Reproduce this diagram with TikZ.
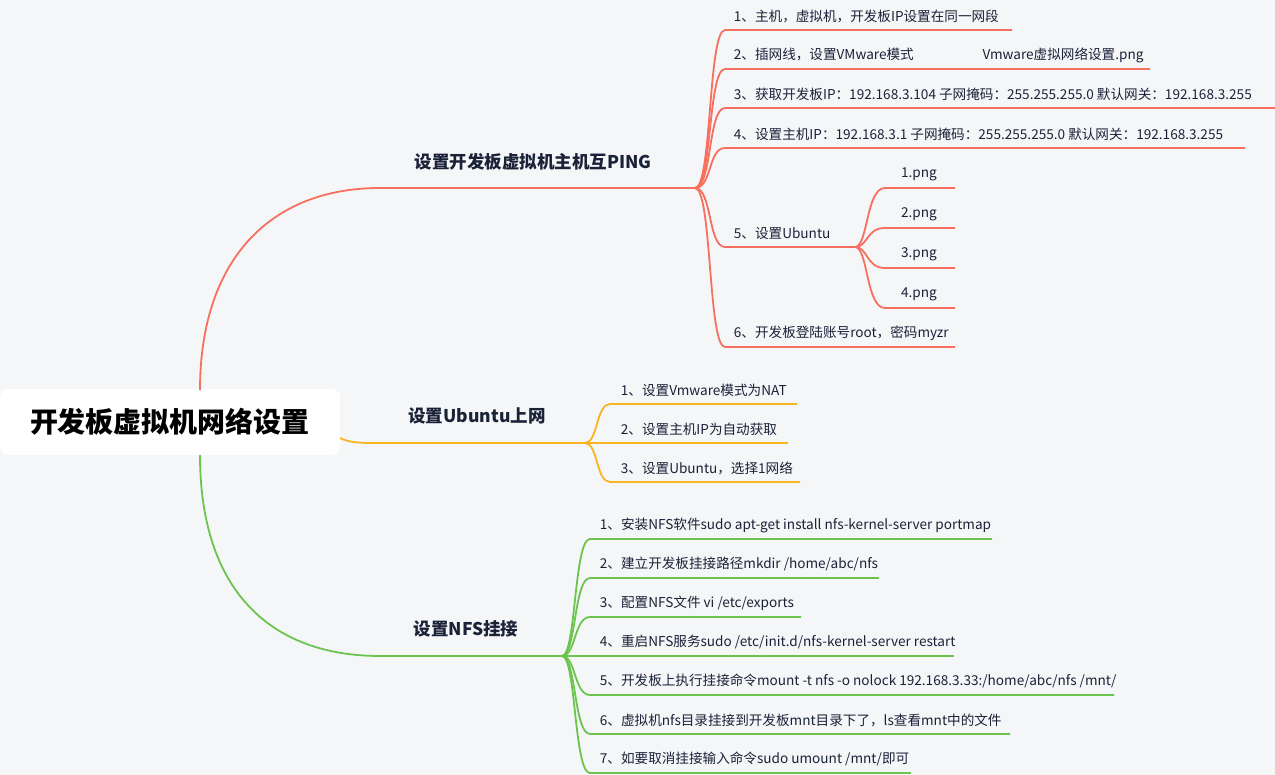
\documentclass[tikz,border=0pt]{standalone}
\usepackage{fontspec}
\setmainfont{Noto Sans CJK SC}
\usepackage{xcolor}
\definecolor{bg}{HTML}{F5F6F8}
\definecolor{redb}{HTML}{F7705F}
\definecolor{orab}{HTML}{F9B422}
\definecolor{greb}{HTML}{6CC450}
\definecolor{txt}{HTML}{1A2238}
\begin{document}
\begin{tikzpicture}[x=1pt,y=-1pt,line width=1.8pt,
  leaf/.style={anchor=west,inner sep=0pt,font=\fontsize{13.6}{15}\selectfont,text=txt},
  topic/.style={inner sep=0pt,font=\fontsize{17.5}{20}\selectfont\bfseries,text=txt}]
  \useasboundingbox[fill=bg] (0,0) rectangle (1275,775);
  % Root
  \node[fill=white,rounded corners=8pt,minimum width=340pt,minimum height=66pt,
    font=\fontsize{28}{32}\selectfont\bfseries,text=black] (root) at (170,422) {开发板虚拟机网络设置};
  \coordinate (rt) at (200,390);
  \coordinate (rb) at (200,455);
  \coordinate (rr) at (340,438);
  % Topics
  \node[topic] (t1) at (533,162) {设置开发板虚拟机主机互PING};
  \node[topic] (t2) at (477,416) {设置Ubuntu上网};
  \node[topic] (t3) at (466,629) {设置NFS挂接};
  \coordinate (t1a) at (380,188); \coordinate (t1b) at (695,188);
  \coordinate (t2a) at (380,443); \coordinate (t2b) at (585,443);
  \coordinate (t3a) at (380,656); \coordinate (t3b) at (562,656);
  \draw[redb] (rt) .. controls (200,260) and (270,188) .. (t1a) -- (t1b);
  \draw[orab] (rr) .. controls (350,443) and (360,443) .. (t2a) -- (t2b);
  \draw[greb] (rb) .. controls (200,590) and (270,656) .. (t3a) -- (t3b);
  % Red leaves
  \foreach \y/\e/\t [count=\i] in {
    30/1012/{1、主机，虚拟机，开发板IP设置在同一网段},
    69/925/{2、插网线，设置VMware模式},
    108/1275/{3、获取开发板IP：192.168.3.104 子网掩码：255.255.255.0 默认网关：192.168.3.255},
    148/1245/{4、设置主机IP：192.168.3.1 子网掩码：255.255.255.0 默认网关：192.168.3.255},
    247/835/{5、设置Ubuntu},
    347/955/{6、开发板登陆账号root，密码myzr}}{
    \coordinate (r\i) at (725,\y); \coordinate (re\i) at (\e,\y);
    \draw[redb] (t1b) .. controls (712,188) and (708,\y) .. (r\i) -- (re\i);
    \node[leaf] (rl\i) at (733,\y-14) {\t};
  }
  \coordinate (png0) at (945,69); \coordinate (png1) at (1150,69);
  \draw[redb] (re2) -- (png0) -- (png1);
  \node[leaf,anchor=center] (pngl) at (1063,55) {Vmware虚拟网络设置.png};
  \coordinate (ub) at (855,247);
  \draw[redb] (re5) -- (ub);
  \foreach \y [count=\i] in {188,228,268,308}{
    \coordinate (u\i) at (885,\y); \coordinate (ue\i) at (955,\y);
    \draw[redb] (ub) .. controls (868,247) and (866,\y) .. (u\i) -- (ue\i);
    \node[leaf,anchor=center] (ul\i) at (919,\y-14) {\i.png};
  }
  % Orange leaves
  \foreach \y/\e/\t [count=\i] in {
    404/797/{1、设置Vmware模式为NAT},
    443/788/{2、设置主机IP为自动获取},
    482/800/{3、设置Ubuntu，选择1网络}}{
    \coordinate (o\i) at (610,\y); \coordinate (oe\i) at (\e,\y);
    \draw[orab] (t2b) .. controls (598,443) and (596,\y) .. (o\i) -- (oe\i);
    \node[leaf] (ol\i) at (620,\y-14) {\t};
  }
  % Green leaves
  \foreach \y/\e/\t [count=\i] in {
    539/992/{1、安装NFS软件sudo apt-get install nfs-kernel-server portmap},
    578/879/{2、建立开发板挂接路径mkdir /home/abc/nfs},
    617/801/{3、配置NFS文件 vi /etc/exports},
    656/954/{4、重启NFS服务sudo /etc/init.d/nfs-kernel-server restart},
    695/1114/{5、开发板上执行挂接命令mount -t nfs -o nolock 192.168.3.33:/home/abc/nfs /mnt/},
    734/1010/{6、虚拟机nfs目录挂接到开发板mnt目录下了，ls查看mnt中的文件},
    773/911/{7、如要取消挂接输入命令sudo umount /mnt/即可}}{
    \coordinate (g\i) at (590,\y); \coordinate (ge\i) at (\e,\y);
    \draw[greb] (t3b) .. controls (576,656) and (574,\y) .. (g\i) -- (ge\i);
    \node[leaf] (gl\i) at (599,\y-14) {\t};
  }
\end{tikzpicture}
\end{document}
